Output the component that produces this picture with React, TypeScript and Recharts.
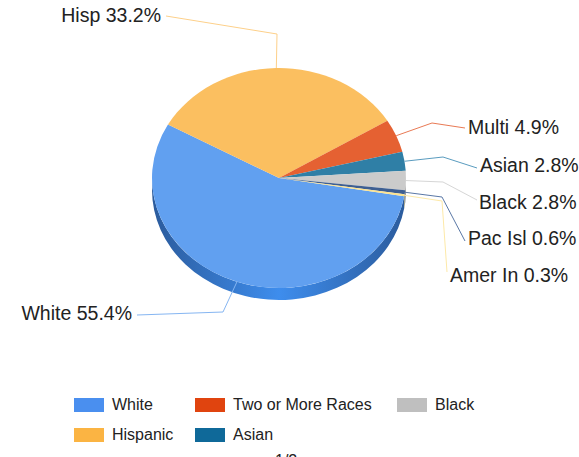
import React from 'react';
import { PieChart, Pie, Cell, Legend } from 'recharts';

// ---- data ----
const categories = ['White', 'Hispanic', 'Two or More Races', 'Asian', 'Black', 'Pacific Islander', 'American Indian'];
const shortLabels = ['White', 'Hisp', 'Multi', 'Asian', 'Black', 'Pac Isl', 'Amer In'];
const values = [55.4, 33.2, 4.9, 2.8, 2.8, 0.6, 0.3];
const legendPage = '1/2';

// ---- styles ----
const topColors = ['#61a0f0', '#fbbf60', '#e56132', '#2f7fa6', '#cbcbcb', '#3e5f92', '#fde38d'];
const legendColors = ['#4a8fef', '#fbb443', '#e0440f', '#0f6999', '#bfbfbf', '#2d4f86', '#fcd65a'];
const sideDark = ['#2b5b9c', '#c48a30', '#a43e18', '#1d5675', '#8e8e8e', '#263f66', '#c4ac55'];
const sideLight = ['#3e8ded', '#f0a83c', '#d5501e', '#27709a', '#b0b0b0', '#34568a', '#e8cc6a'];
const lineColors = ['#86b6f2', '#fdd08a', '#e97a55', '#5a9cbf', '#d6d6d6', '#5a78a6', '#fde9a8'];

// ---- layout ----
const W = 579;
const H = 457;
const CX = 279;
const CY = 178;
const R = 127;
const K = 0.866;
const DEPTH = 12;
const START = 350.4;
const FONT = '"Liberation Sans", Arial, sans-serif';

type LL = { bend: [number, number]; end: [number, number]; text: [number, number]; anchor: 'start' | 'end' };
const labelLayout: LL[] = [
  { bend: [-56, 134], end: [-142, 137], text: [-147, 135], anchor: 'end' },
  { bend: [-2, -144], end: [-113, -162], text: [-118, -163], anchor: 'end' },
  { bend: [153, -55], end: [186, -50], text: [189, -51], anchor: 'start' },
  { bend: [164, -21], end: [198, -10], text: [201, -13], anchor: 'start' },
  { bend: [164, 4], end: [198, 22], text: [200, 24], anchor: 'start' },
  { bend: [163, 19], end: [186, 63], text: [189, 60], anchor: 'start' },
  { bend: [163, 23], end: [168, 94], text: [171, 97], anchor: 'start' },
];

const legendCols = [74, 195, 397];
const legendRows = [15, 45];

const data = categories.map((name, i) => ({ name, value: values[i] }));

const idxOf = (p: any) => {
  const n = p?.name ?? p?.payload?.name;
  const i = categories.indexOf(n);
  return i >= 0 ? i : (typeof p?.index === 'number' ? p.index : 0);
};

const renderSlice = (p: any) => {
  const { cx, cy, outerRadius: r, startAngle, endAngle, fill } = p;
  const i = idxOf(p);
  const lo = Math.min(startAngle, endAngle);
  const hi = Math.max(startAngle, endAngle);
  const P = (d: number): [number, number] => {
    const a = (d * Math.PI) / 180;
    return [cx + r * Math.cos(a), cy - r * K * Math.sin(a)];
  };
  const [x1, y1] = P(hi);
  const [x2, y2] = P(lo);
  const large = hi - lo > 180 ? 1 : 0;
  const top = `M${cx},${cy} L${x1},${y1} A${r},${r * K} 0 ${large} 1 ${x2},${y2} Z`;
  const sides: string[] = [];
  for (const k of [-1, 0, 1]) {
    const s = Math.max(lo, 180 + 360 * k);
    const e = Math.min(hi, 360 + 360 * k);
    if (e > s) {
      const [sx, sy] = P(s);
      const [ex, ey] = P(e);
      const lg = e - s > 180 ? 1 : 0;
      sides.push(
        `M${sx},${sy} A${r},${r * K} 0 ${lg} 0 ${ex},${ey} L${ex},${ey + DEPTH} A${r},${r * K} 0 ${lg} 1 ${sx},${sy + DEPTH} Z`
      );
    }
  }
  const gid = `side-grad-${i}`;
  return (
    <g>
      <defs>
        <linearGradient id={gid} gradientUnits="userSpaceOnUse" x1={cx - r} y1={0} x2={cx + r} y2={0}>
          <stop offset="0" stopColor={sideDark[i]} />
          <stop offset="0.5" stopColor={sideLight[i]} />
          <stop offset="1" stopColor={sideDark[i]} />
        </linearGradient>
      </defs>
      {sides.map((d, j) => (
        <path key={j} d={d} fill={`url(#${gid})`} stroke="none" />
      ))}
      <path d={top} fill={fill} stroke="none" />
    </g>
  );
};

const renderLabel = (p: any) => {
  const i = idxOf(p);
  const L = labelLayout[i];
  const { cx, cy, midAngle, outerRadius: r } = p;
  const a = (midAngle * Math.PI) / 180;
  const rx = cx + r * Math.cos(a);
  const ry = cy - r * K * Math.sin(a);
  const pts = `${rx},${ry} ${cx + L.bend[0]},${cy + L.bend[1]} ${cx + L.end[0]},${cy + L.end[1]}`;
  return (
    <g key={`lbl-${i}`}>
      <polyline points={pts} fill="none" stroke={lineColors[i]} strokeWidth={1} />
      <text
        x={cx + L.text[0]}
        y={cy + L.text[1]}
        textAnchor={L.anchor}
        dominantBaseline="central"
        fill="#222222"
        fontSize={19.5}
        fontFamily={FONT}
      >
        {`${shortLabels[i]} ${values[i].toFixed(1)}%`}
      </text>
    </g>
  );
};

const renderLegend = (props: any) => {
  const payload: any[] = props.payload || [];
  const items = categories
    .map((name, i) => {
      const found = payload.find((it: any) => it.value === name);
      return { name: found ? found.value : name, i };
    })
    .slice(0, 5);
  return (
    <div style={{ position: 'relative', width: W, height: H - 390, fontFamily: FONT }}>
      {items.map((item, j) => {
        const col = Math.floor(j / 2);
        const row = j % 2;
        const left = legendCols[col];
        const mid = legendRows[row];
        return (
          <div key={item.name}>
            <div
              style={{
                position: 'absolute',
                left,
                top: mid - 7,
                width: 30,
                height: 14,
                background: legendColors[item.i],
              }}
            />
            <div
              style={{
                position: 'absolute',
                left: left + 38,
                top: mid - 10,
                height: 20,
                lineHeight: '20px',
                fontSize: 16,
                color: '#222222',
                whiteSpace: 'nowrap',
              }}
            >
              {item.name}
            </div>
          </div>
        );
      })}
      <div
        style={{
          position: 'absolute',
          left: 275,
          top: 63,
          fontSize: 16,
          lineHeight: '16px',
          color: '#222222',
          whiteSpace: 'nowrap',
        }}
      >
        {legendPage}
      </div>
    </div>
  );
};

export default function App() {
  return (
    <div style={{ position: 'absolute', left: 0, top: 0, width: W, height: H, background: '#ffffff', fontFamily: FONT }}>
      <PieChart width={W} height={H} margin={{ top: 0, right: 0, bottom: 0, left: 0 }}>
        <Pie
          data={data}
          dataKey="value"
          nameKey="name"
          cx={CX}
          cy={CY}
          outerRadius={R}
          startAngle={START}
          endAngle={START - 360}
          isAnimationActive={false}
          labelLine={false}
          label={renderLabel}
          shape={renderSlice}
          activeShape={renderSlice}
          inactiveShape={renderSlice}
          stroke="none"
        >
          {data.map((d, i) => (
            <Cell key={d.name} fill={topColors[i]} />
          ))}
        </Pie>
        <Legend
          verticalAlign="bottom"
          content={renderLegend}
          wrapperStyle={{ left: 0, top: 390, bottom: 'auto', width: W, height: H - 390 }}
        />
      </PieChart>
    </div>
  );
}
